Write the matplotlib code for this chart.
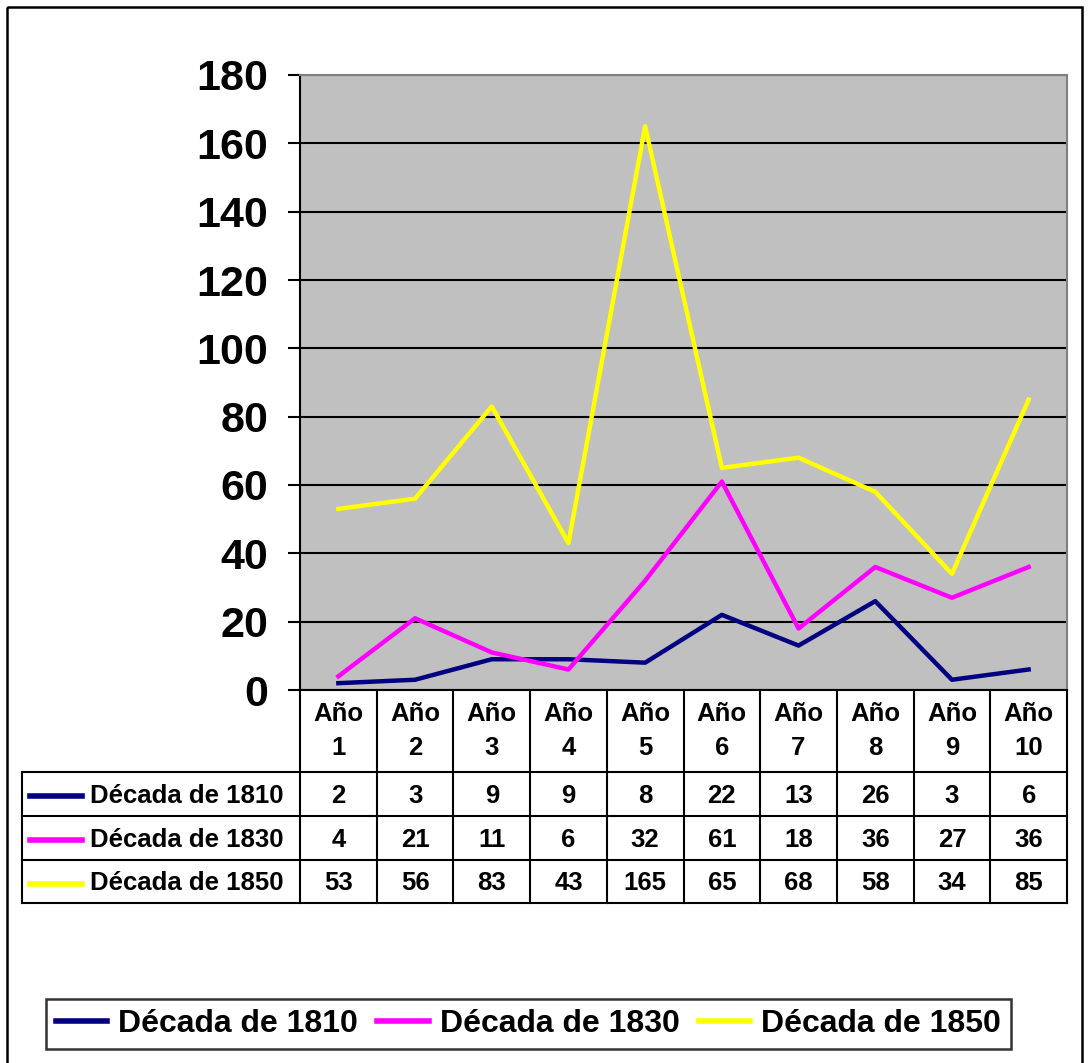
import matplotlib.pyplot as plt
from matplotlib.patches import Rectangle

plt.rcParams["font.family"] = ["Liberation Sans", "DejaVu Sans"]
plt.rcParams["font.weight"] = "bold"

years = ["Año\n1", "Año\n2", "Año\n3", "Año\n4", "Año\n5",
         "Año\n6", "Año\n7", "Año\n8", "Año\n9", "Año\n10"]
series_names = ["Década de 1810", "Década de 1830", "Década de 1850"]
d1810 = [2, 3, 9, 9, 8, 22, 13, 26, 3, 6]
d1830 = [4, 21, 11, 6, 32, 61, 18, 36, 27, 36]
d1850 = [53, 56, 83, 43, 165, 65, 68, 58, 34, 85]
colors = ["#000080", "#FF00FF", "#FFFF00"]
series = [d1810, d1830, d1850]

W, H = 1090, 1063
fig = plt.figure(figsize=(W / 100, H / 100), dpi=100)

# pixel canvas for frame, table and legend box
cv = fig.add_axes([0, 0, 1, 1])
cv.set_xlim(0, W)
cv.set_ylim(H, 0)
cv.axis("off")
cv.add_patch(Rectangle((7, 7), 1075, 1070, fill=False, lw=1.8, ec="black"))

# plot area in pixels
L, R, T, B = 300, 1067, 75, 690
ax = fig.add_axes([L / W, 1 - B / H, (R - L) / W, (B - T) / H])
ax.set_facecolor("#C0C0C0")
xs = list(range(1, len(years) + 1))
for vals, c, name in zip(series, colors, series_names):
    ax.plot(xs, vals, color=c, lw=3.2, label=name, zorder=3)
ax.set_xlim(0.5, len(years) + 0.5)
ax.set_ylim(0, 180)
ax.set_yticks(range(0, 181, 20))
ax.set_xticks([])
ax.yaxis.grid(True, color="black", lw=1.5)
ax.set_axisbelow(True)
ax.tick_params(axis="y", direction="out", length=9, width=1.5, pad=14, labelsize=31)
for t in ax.get_yticklabels():
    t.set_fontweight("bold")
ax.spines["left"].set_linewidth(1.5)
ax.spines["bottom"].set_linewidth(1.5)
ax.spines["top"].set_color("#808080")
ax.spines["right"].set_color("#808080")
ax.spines["top"].set_linewidth(1.5)
ax.spines["right"].set_linewidth(1.5)

# data table under the plot
fs = 18.5
cw = (R - L) / len(years)
rows_y = [B, 772, 816, 860, 903]
lw = 1.5
for i in range(len(years) + 1):
    cv.plot([L + i * cw, L + i * cw], [B, rows_y[-1]], color="black", lw=lw)
cv.plot([22, 22], [rows_y[1], rows_y[-1]], color="black", lw=lw)
for y in rows_y[1:]:
    cv.plot([22, R], [y, y], color="black", lw=lw)
for i, lab in enumerate(years):
    cx = L + (i + 0.5) * cw
    a, b = lab.split("\n")
    cv.text(cx, 714, a, ha="center", va="center", fontsize=fs, fontweight="bold")
    cv.text(cx, 748, b, ha="center", va="center", fontsize=fs, fontweight="bold")
for r, (vals, c, name) in enumerate(zip(series, colors, series_names)):
    cy = (rows_y[r + 1] + rows_y[r + 2]) / 2 + 2
    cv.plot([30, 82], [cy, cy], color=c, lw=4)
    cv.text(90, cy, name, ha="left", va="center", fontsize=fs, fontweight="bold")
    for i, v in enumerate(vals):
        cv.text(L + (i + 0.5) * cw, cy, str(v), ha="center", va="center",
                fontsize=fs, fontweight="bold")

# legend box
leg = ax.legend(loc="center", bbox_to_anchor=((45 + 1012) / 2 / W, 1 - 1024 / H),
                bbox_transform=fig.transFigure, ncol=3, frameon=True, fancybox=False,
                prop={"size": 23, "weight": "bold"}, handlelength=1.6,
                handletextpad=0.35, columnspacing=0.6, borderpad=0.3)
leg.get_frame().set_edgecolor("black")
leg.get_frame().set_linewidth(1.8)
for h in leg.get_lines():
    h.set_linewidth(4)

fig.savefig("out.png", dpi=100)
